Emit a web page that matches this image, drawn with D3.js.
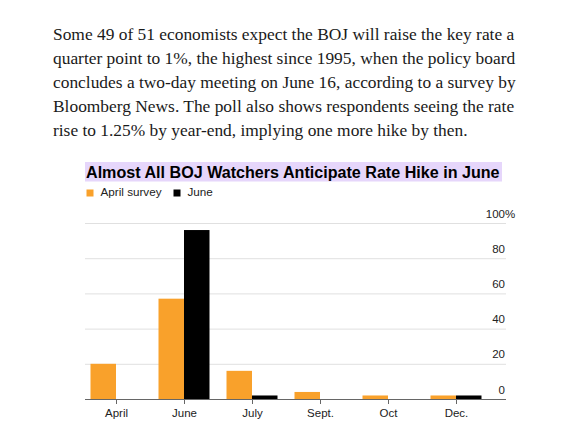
<!DOCTYPE html>
<html>
<head>
<meta charset="utf-8">
<script src="https://cdn.jsdelivr.net/npm/d3@7"></script>
<style>
  html, body { margin: 0; padding: 0; background: #fff; }
  svg { display: block; }
</style>
</head>
<body>
<svg id="chart" width="572" height="433"></svg>
<script>
// ---- data ----
const paragraphLines = [
  "Some 49 of 51 economists expect the BOJ will raise the key rate a",
  "quarter point to 1%, the highest since 1995, when the policy board",
  "concludes a two-day meeting on June 16, according to a survey by",
  "Bloomberg News. The poll also shows respondents seeing the rate",
  "rise to 1.25% by year-end, implying one more hike by then."
];
const titleText = "Almost All BOJ Watchers Anticipate Rate Hike in June";
const categories = ["April", "June", "July", "Sept.", "Oct", "Dec."];
const seriesNames = ["April survey", "June"];
const aprilSurvey = [20, 57, 16, 4, 2, 2];
const juneSurvey = [0, 96, 2, 0, 0, 2];
const yTicks = [0, 20, 40, 60, 80, 100];

// ---- build ----
const colors = { "April survey": "#f9a12b", "June": "#000000" };
const rows = categories.map((c, i) => ({ cat: c, "April survey": aprilSurvey[i], "June": juneSurvey[i] }));
const sans = "'Liberation Sans', Arial, Helvetica, sans-serif";

const svg = d3.select("#chart");

// paragraph
const para = svg.append("g");
const paraSize = 18.3;
para.selectAll("text").data(paragraphLines).join("text")
  .attr("x", 53)
  .attr("y", (d, i) => 39.5 + i * 24.1)
  .attr("font-family", "'Liberation Serif', 'Times New Roman', serif")
  .attr("font-size", paraSize)
  .attr("fill", "#1a1a1a")
  .text(d => d);
{
  const w = para.select("text").node().getComputedTextLength();
  para.selectAll("text").attr("font-size", paraSize * 461 / w);
}

// title highlight + title
svg.append("rect").attr("x", 85).attr("y", 162).attr("width", 417).attr("height", 19.5)
  .attr("fill", "#e6d6fb");
const title = svg.append("text")
  .attr("x", 86).attr("y", 177.5)
  .attr("font-family", sans)
  .attr("font-weight", "bold")
  .attr("font-size", 17)
  .attr("fill", "#000")
  .text(titleText);
{
  const w = title.node().getComputedTextLength();
  title.attr("font-size", 17 * 414 / w);
}

// legend
const legendX = [86.5, 173.5];
const legend = svg.append("g");
seriesNames.forEach((s, i) => {
  legend.append("rect").attr("x", legendX[i]).attr("y", 189.5).attr("width", 7).attr("height", 7)
    .attr("fill", colors[s]);
  legend.append("text").attr("x", legendX[i] + 14).attr("y", 196)
    .attr("font-family", sans)
    .attr("font-size", 11.7)
    .attr("fill", "#222")
    .text(s);
});

// scales
const gridLeft = 85, gridRight = 506;
const x = d3.scalePoint().domain(categories).range([116, 456]);
const xSub = d3.scaleBand().domain(seriesNames).range([-25.5, 25.5]).paddingInner(0);
const y = d3.scaleLinear().domain([0, 100]).range([399, 223]);

// y axis / grid
const yAxis = svg.append("g")
  .attr("transform", `translate(${gridRight},0)`)
  .call(d3.axisLeft(y).tickValues(yTicks).tickSize(gridRight - gridLeft).tickFormat(d => d === 100 ? "100%" : d));
yAxis.select(".domain").remove();
yAxis.selectAll(".tick line").attr("stroke", "#e0e0e0").attr("stroke-width", 1);
yAxis.selectAll(".tick text")
  .attr("x", -1).attr("dy", null).attr("y", -6)
  .attr("text-anchor", "end")
  .attr("font-family", sans)
  .attr("font-size", 11.5)
  .attr("fill", "#222");
// let the % sign hang past the number column
yAxis.selectAll(".tick text").filter(d => d === 100).each(function () {
  const full = this.getComputedTextLength();
  const t = d3.select(this);
  t.text("100");
  const num = this.getComputedTextLength();
  t.text("100%");
  t.attr("x", -1 + (full - num));
});

// bars
const barG = svg.append("g");
seriesNames.forEach(s => {
  barG.selectAll(null).data(rows).join("rect")
    .attr("x", d => x(d.cat) + xSub(s))
    .attr("width", xSub.bandwidth())
    .attr("y", d => y(d[s]))
    .attr("height", d => y(0) - y(d[s]))
    .attr("fill", colors[s]);
});

// x axis
const xAxis = svg.append("g")
  .attr("transform", `translate(0,${y(0)})`)
  .call(d3.axisBottom(x).tickSize(5).tickPadding(5));
xAxis.select(".domain").remove();
xAxis.insert("line", ":first-child")
  .attr("x1", gridLeft).attr("x2", gridRight).attr("y1", 0.5).attr("y2", 0.5)
  .attr("stroke", "#666").attr("stroke-width", 1);
xAxis.selectAll(".tick line").attr("stroke", "#666").attr("y1", 0.5);
xAxis.selectAll(".tick text")
  .attr("dy", null).attr("y", 18)
  .attr("font-family", sans)
  .attr("font-size", 11.5)
  .attr("fill", "#222");
</script>
</body>
</html>
